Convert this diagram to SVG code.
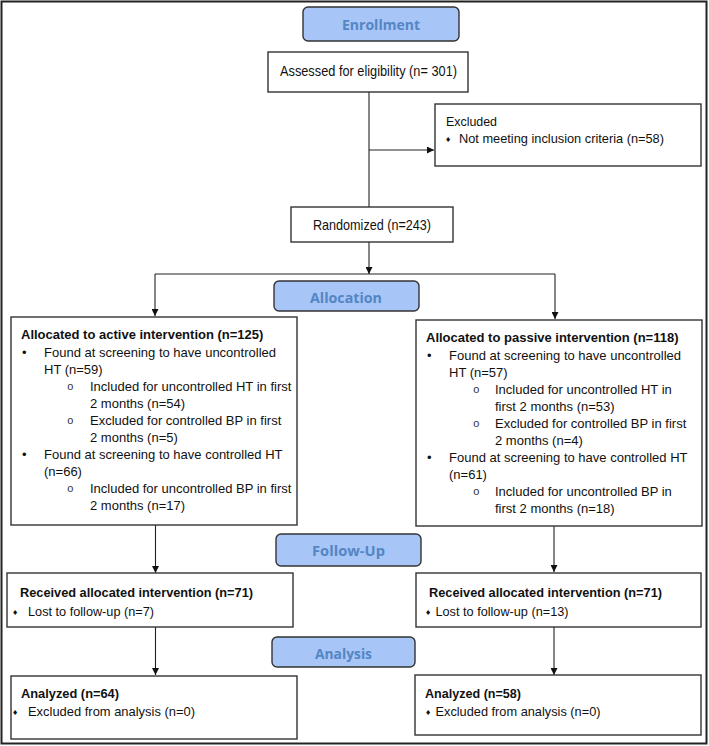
<svg xmlns="http://www.w3.org/2000/svg" width="709" height="746" viewBox="0 0 709 746">
<defs>
<marker id="ah" viewBox="0 0 10 10" refX="10" refY="5" markerWidth="7" markerHeight="7" orient="auto" markerUnits="userSpaceOnUse">
<path d="M0,0 L10,5 L0,10 z" fill="#111"/>
</marker>
<style>
.box{fill:#fff;stroke:#333;stroke-width:1.4}
.stage{fill:#a7c5f6;stroke:#333;stroke-width:1.4}
.st{font-family:"Open Sans","Noto Sans",sans-serif;font-weight:bold;font-size:15px;fill:#5485c4;text-anchor:middle}
.n{font-family:"Liberation Sans",Arial,sans-serif;font-size:13px;fill:#111}
.nl{font-family:"Liberation Sans",Arial,sans-serif;font-size:14.5px;fill:#111}
.nb{font-family:"Liberation Sans",Arial,sans-serif;font-size:13px;font-weight:bold;fill:#111}
.t{font-family:"Liberation Sans",Arial,sans-serif;font-size:13px;fill:#111}
.tb{font-family:"Liberation Sans",Arial,sans-serif;font-size:13px;font-weight:bold;fill:#111}
.dm{font-family:"DejaVu Sans",sans-serif;font-size:7px;fill:#111}
.ci{font-family:"Liberation Mono",monospace;font-size:11px;fill:#333}
.c{stroke:#222;stroke-width:1.1;fill:none}
</style>
</defs>
<rect x="1.5" y="1.5" width="705" height="742" fill="#fff" stroke="#222" stroke-width="2"/>

<g id="connectors">
<line class="c" x1="369" y1="92" x2="369" y2="207"/>
<line class="c" x1="369" y1="150" x2="434" y2="150" marker-end="url(#ah)"/>
<line class="c" x1="369" y1="242" x2="369" y2="274" marker-end="url(#ah)"/>
<line class="c" x1="155" y1="274" x2="555" y2="274"/>
<line class="c" x1="155" y1="274" x2="155" y2="316" marker-end="url(#ah)"/>
<line class="c" x1="555" y1="274" x2="555" y2="319" marker-end="url(#ah)"/>
<line class="c" x1="155.5" y1="525" x2="155.5" y2="573" marker-end="url(#ah)"/>
<line class="c" x1="554" y1="526" x2="554" y2="572" marker-end="url(#ah)"/>
<line class="c" x1="155.5" y1="627" x2="155.5" y2="675" marker-end="url(#ah)"/>
<line class="c" x1="554" y1="627" x2="554" y2="675" marker-end="url(#ah)"/>
</g>

<g id="enrollment">
<rect class="stage" x="303" y="7" width="156" height="34" rx="5"/>
<text class="st" x="381" y="30" textLength="78" lengthAdjust="spacingAndGlyphs">Enrollment</text>
</g>

<g id="assessed">
<rect class="box" x="268" y="52" width="200" height="40"/>
<text class="nl" x="280" y="76" textLength="177" lengthAdjust="spacingAndGlyphs">Assessed for eligibility (n= 301)</text>
</g>

<g id="excluded">
<rect class="box" x="435" y="104" width="266" height="62"/>
<text class="n" x="446" y="126" textLength="51" lengthAdjust="spacingAndGlyphs">Excluded</text>
<text class="dm" x="445" y="142">♦</text>
<text class="n" x="459" y="143" textLength="205" lengthAdjust="spacingAndGlyphs">Not meeting inclusion criteria (n=58)</text>
</g>

<g id="randomized">
<rect class="box" x="291" y="207" width="162" height="35"/>
<text class="nl" x="313" y="230" textLength="118" lengthAdjust="spacingAndGlyphs">Randomized (n=243)</text>
</g>

<g id="allocation">
<rect class="stage" x="274" y="281" width="145" height="30" rx="5"/>
<text class="st" x="346" y="303" textLength="72" lengthAdjust="spacingAndGlyphs">Allocation</text>
</g>

<g id="active">
<rect class="box" x="11" y="317" width="286" height="208"/>
<text class="tb" x="21" y="339">Allocated to active intervention (n=125)</text>
<text class="t" x="22" y="357">•</text>
<text class="t" x="44" y="357">Found at screening to have uncontrolled</text>
<text class="t" x="44" y="374">HT (n=59)</text>
<text class="ci" x="67" y="390">o</text>
<text class="t" x="90" y="391">Included for uncontrolled HT in first</text>
<text class="t" x="90" y="408">2 months (n=54)</text>
<text class="ci" x="67" y="424">o</text>
<text class="t" x="90" y="425">Excluded for controlled BP in first</text>
<text class="t" x="90" y="442">2 months (n=5)</text>
<text class="t" x="22" y="459">•</text>
<text class="t" x="44" y="459">Found at screening to have controlled HT</text>
<text class="t" x="44" y="476">(n=66)</text>
<text class="ci" x="67" y="492">o</text>
<text class="t" x="90" y="493">Included for uncontrolled BP in first</text>
<text class="t" x="90" y="510">2 months (n=17)</text>
</g>

<g id="passive">
<rect class="box" x="416" y="320" width="286" height="206"/>
<text class="tb" x="426" y="342">Allocated to passive intervention (n=118)</text>
<text class="t" x="427" y="360">•</text>
<text class="t" x="449" y="360">Found at screening to have uncontrolled</text>
<text class="t" x="449" y="377">HT (n=57)</text>
<text class="ci" x="473" y="393">o</text>
<text class="t" x="495" y="394">Included for uncontrolled HT in</text>
<text class="t" x="495" y="411">first 2 months (n=53)</text>
<text class="ci" x="473" y="427">o</text>
<text class="t" x="495" y="428">Excluded for controlled BP in first</text>
<text class="t" x="495" y="445">2 months (n=4)</text>
<text class="t" x="427" y="462">•</text>
<text class="t" x="449" y="462">Found at screening to have controlled HT</text>
<text class="t" x="449" y="479">(n=61)</text>
<text class="ci" x="473" y="495">o</text>
<text class="t" x="495" y="496">Included for uncontrolled BP in</text>
<text class="t" x="495" y="513">first 2 months (n=18)</text>
</g>

<g id="followup">
<rect class="stage" x="276" y="534" width="145" height="32" rx="5"/>
<text class="st" x="348.5" y="556" textLength="73" lengthAdjust="spacingAndGlyphs">Follow-Up</text>
</g>

<g id="received-active">
<rect class="box" x="7" y="573" width="286" height="54"/>
<text class="nb" x="20" y="597" textLength="233" lengthAdjust="spacingAndGlyphs">Received allocated intervention (n=71)</text>
<text class="dm" x="12" y="615">♦</text>
<text class="n" x="28" y="616" textLength="126" lengthAdjust="spacingAndGlyphs">Lost to follow-up (n=7)</text>
</g>

<g id="received-passive">
<rect class="box" x="416" y="573" width="285" height="54"/>
<text class="nb" x="429" y="597" textLength="233" lengthAdjust="spacingAndGlyphs">Received allocated intervention (n=71)</text>
<text class="dm" x="425" y="615">♦</text>
<text class="n" x="435.5" y="616" textLength="133" lengthAdjust="spacingAndGlyphs">Lost to follow-up (n=13)</text>
</g>

<g id="analysis">
<rect class="stage" x="272" y="637" width="143" height="30" rx="5"/>
<text class="st" x="343.5" y="659" textLength="57" lengthAdjust="spacingAndGlyphs">Analysis</text>
</g>

<g id="analyzed-active">
<rect class="box" x="11" y="676" width="286" height="63"/>
<text class="nb" x="21" y="698" textLength="98" lengthAdjust="spacingAndGlyphs">Analyzed (n=64)</text>
<text class="dm" x="12" y="715">♦</text>
<text class="n" x="28" y="716" textLength="167" lengthAdjust="spacingAndGlyphs">Excluded from analysis (n=0)</text>
</g>

<g id="analyzed-passive">
<rect class="box" x="415" y="675" width="286" height="60"/>
<text class="nb" x="425" y="698" textLength="96" lengthAdjust="spacingAndGlyphs">Analyzed (n=58)</text>
<text class="dm" x="425" y="715">♦</text>
<text class="n" x="435.5" y="716" textLength="165" lengthAdjust="spacingAndGlyphs">Excluded from analysis (n=0)</text>
</g>
</svg>
